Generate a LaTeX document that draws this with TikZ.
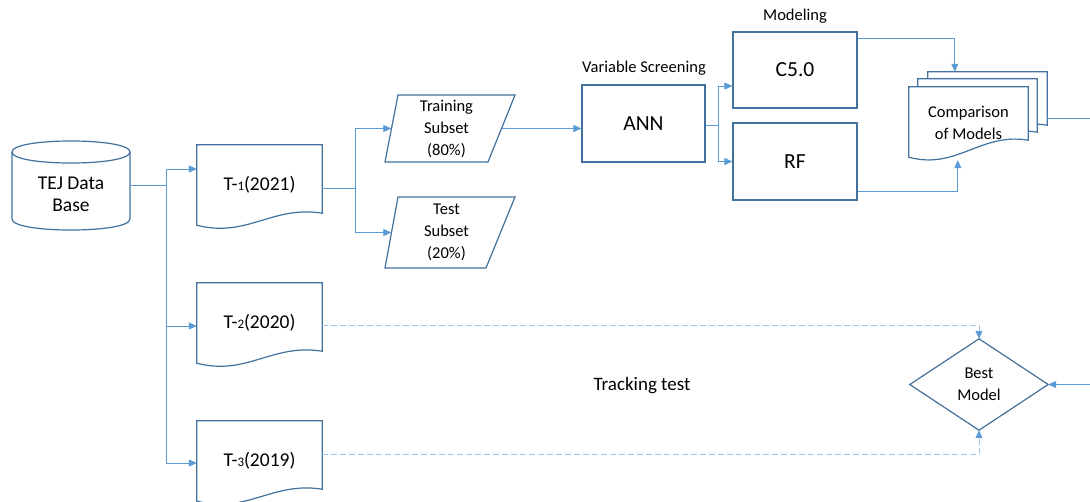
\documentclass[tikz,border=0pt]{standalone}
\usepackage{fontspec}
\setmainfont{Carlito}
\usetikzlibrary{arrows.meta,calc,backgrounds}
\definecolor{bord}{HTML}{41719C}
\definecolor{conn}{HTML}{5B9BD5}
\definecolor{dashc}{HTML}{9DC3E6}
\newcommand{\docshape}[2]{%
  \path[shapeline] (#1.north west) -- (#1.north east) -- ([yshift=#2pt]#1.south east)
    .. controls ($(#1.south west)!0.6!(#1.south east)+(0,-#2-8)$) and ($(#1.south west)!0.4!(#1.south east)+(0,13)$) .. (#1.south west) -- cycle;}
\begin{document}
\begin{tikzpicture}[x=1pt,y=-1pt,
  shapeline/.style={draw=bord, line width=1.2pt, fill=white},
  conline/.style={draw=conn, line width=0.8pt},
  arr/.style={-{Triangle[length=8pt,width=7pt,color=conn]}},
  dashline/.style={draw=dashc, line width=0.9pt, dash pattern=on 6pt off 3pt},
  box/.style={rectangle, inner sep=0pt, align=center},
  rectbox/.style={box, draw=bord, line width=1.2pt},
  fsmall/.style={font=\fontsize{16.5}{22}\selectfont},
  fmid/.style={font=\fontsize{19.5}{22}\selectfont},
  fbig/.style={font=\fontsize{21.5}{24}\selectfont},
]
\useasboundingbox (0,0) rectangle (1090,501);

% ---------- nodes ----------
\node[box, minimum width=118pt, minimum height=90pt] (db) at (71,185) {};
\node[fmid, align=center] (dbt) at (71,194) {TEJ Data\\Base};

\node[box, fmid, minimum width=125pt, minimum height=80pt] (t1) at (259.5,185) {T-{\fontsize{13}{13}\selectfont 1}(2021)};
\node[box, fmid, minimum width=125pt, minimum height=80pt] (t2) at (259.5,323) {T-{\fontsize{13}{13}\selectfont 2}(2020)};
\node[box, fmid, minimum width=125pt, minimum height=80pt] (t3) at (259.5,461) {T-{\fontsize{13}{13}\selectfont 3}(2019)};

\node[box, fsmall, minimum width=110pt, minimum height=67pt] (tr) at (446.5,128.5) {Training\\Subset\\(80\%)};
\node[box, fsmall, minimum width=110pt, minimum height=71pt] (te) at (446.5,232.5) {Test\\Subset\\(20\%)};

\node[rectbox, fbig, minimum width=123pt, minimum height=77pt] (ann) at (643.5,123.5) {ANN};
\node[fsmall] (vs) at (644,68) {Variable Screening};

\node[rectbox, fbig, minimum width=124pt, minimum height=76pt] (c5) at (795,70) {C5.0};
\node[rectbox, fbig, minimum width=124pt, minimum height=77pt] (rf) at (795,161.5) {RF};
\node[fsmall] (mod) at (795,16) {Modeling};

\node[box, minimum width=119pt, minimum height=70pt] (cmp3) at (987.5,107) {};
\node[box, minimum width=119pt, minimum height=70pt] (cmp2) at (977.5,114) {};
\node[box, minimum width=119pt, minimum height=70pt] (cmp) at (968.5,122) {};
\node[fsmall, align=center] (cmpt) at (968.5,123) {Comparison\\of Models};

\node[box, fsmall, minimum width=138pt, minimum height=91pt] (best) at (979,384.5) {Best\\Model};
\node[font=\fontsize{19}{22}\selectfont] (track) at (642,386) {Tracking test};

% ---------- shapes ----------
\begin{scope}[on background layer]
  % cylinder
  \path[shapeline] (12,152) -- (12,219) .. controls (12,233.7) and (130,233.7) .. (130,219) -- (130,152);
  \path[shapeline] (12,152) .. controls (12,137.3) and (130,137.3) .. (130,152)
                   .. controls (130,166.7) and (12,166.7) .. (12,152) -- cycle;
  % documents
  \docshape{t1}{12}
  \docshape{t2}{12}
  \docshape{t3}{12}
  \docshape{cmp3}{17}
  \docshape{cmp2}{17}
  \docshape{cmp}{17}
  % parallelograms
  \path[shapeline] (398,95) -- (515,95) -- (488,162) -- (385,162) -- cycle;
  \path[shapeline] (398,197) -- (515,197) -- (486,268) -- (385,268) -- cycle;
  % diamond
  \path[shapeline] (best.north) -- (best.east) -- (best.south) -- (best.west) -- cycle;
\end{scope}

% ---------- connectors ----------
\coordinate (dbR) at (130,185);
\coordinate (j1) at (166,185);
\draw[conline] (dbR) -- (j1);
\draw[conline, arr] (j1) |- ([yshift=16pt]t1.west);
\draw[conline, arr] (j1) |- ([yshift=-3pt]t2.west);
\draw[conline, arr] (j1) |- ([yshift=-2pt]t3.west);

\coordinate (j2) at (355,188);
\draw[conline] ([yshift=-3pt]t1.east) -- (j2);
\draw[conline, arr] (j2) |- (tr.west);
\draw[conline, arr] (j2) |- (te.west);

\draw[conline, arr] (tr.east) -- (ann.west |- tr.east);

\coordinate (j3) at (718,125);
\draw[conline] ([yshift=-1.5pt]ann.east) -- (j3);
\draw[conline, arr] (j3) |- ([yshift=-16pt]c5.west);
\draw[conline, arr] (j3) |- (rf.west);

\draw[conline, arr] ([yshift=32pt]c5.east) -| ($(cmp3.north west)+(27,0)$);
\draw[conline, arr] ([yshift=-30pt]rf.east) -| ($(cmp.south west)+(49,3)$);

\coordinate (outR) at (1090,118);
\coordinate (inR) at (1090,384.5);
\draw[conline] ([yshift=-11pt]cmp3.east) -- (outR);
\draw[conline, arr] (inR) -- (best.east);

\draw[dashline, arr] ([yshift=-2pt]t2.east) -| (best.north);
\draw[dashline, arr] ([yshift=7pt]t3.east) -| (best.south);
\end{tikzpicture}
\end{document}
